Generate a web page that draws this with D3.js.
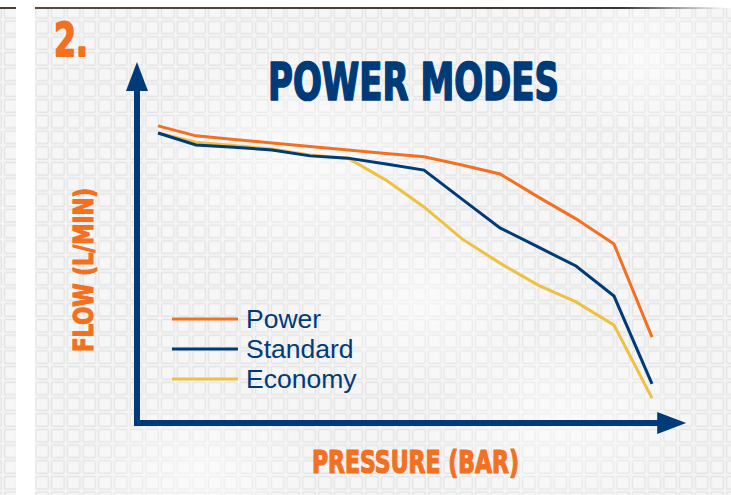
<!DOCTYPE html>
<html><head><meta charset="utf-8">
<script src="https://cdn.jsdelivr.net/npm/d3@7/dist/d3.min.js"></script>
<style>html,body{margin:0;padding:0;background:#fff;}svg{display:block;}</style>
</head><body>
<script>
// Pressure steps (x) and flow readings (y, relative units) per mode
const pressure = [0,1,2,3,4,5,6,7,8,9,10,11,12,13];
const powerFlow    = [92.0,88.9,87.8,86.7,85.6,84.5,83.4,82.4,79.9,77.1,70.0,63.2,55.4,26.6];
const standardFlow = [89.8,86.1,85.4,84.5,82.7,82.0,80.2,78.3,69.3,60.4,54.5,48.6,39.3,12.1];
const economyFlow  = [89.8,86.9,85.9,84.8,83.0,82.0,75.2,66.9,57.0,49.5,42.7,37.5,30.3,7.7];
const modes = ["Power","Standard","Economy"];
const colors = {Power:"#f37021", Standard:"#003b79", Economy:"#f0c043"};

const W=731,H=495;
const svg=d3.select("body").append("svg").attr("width",W).attr("height",H);
const defs=svg.append("defs");
const pat=defs.append("pattern").attr("id","tex").attr("patternUnits","userSpaceOnUse")
  .attr("width",15.7).attr("height",15.7).attr("x",3).attr("y",4);
pat.append("rect").attr("width",15.7).attr("height",15.7).attr("fill","#f4f4f4");
pat.append("rect").attr("x",1.5).attr("y",1.5).attr("width",12.5).attr("height",12.5).attr("rx",1.5)
  .attr("fill","#f6f6f6").attr("stroke","#e4e4e4").attr("stroke-width",1.3);
const rg=defs.append("radialGradient").attr("id","blot");
rg.append("stop").attr("offset","0").attr("stop-color","#fff").attr("stop-opacity",0.55);
rg.append("stop").attr("offset","1").attr("stop-color","#fff").attr("stop-opacity",0);
const tg=defs.append("linearGradient").attr("id","topline");
tg.append("stop").attr("offset","0").attr("stop-color","#5a4a40");
tg.append("stop").attr("offset","0.85").attr("stop-color","#3a3430");
tg.append("stop").attr("offset","1").attr("stop-color","#3a3430").attr("stop-opacity",0);

svg.append("rect").attr("width",W).attr("height",H).attr("fill","#fff");
svg.append("rect").attr("x",0).attr("y",8).attr("width",16).attr("height",H-8).attr("fill","url(#tex)");
svg.append("rect").attr("x",35).attr("y",8).attr("width",W-35).attr("height",H-8).attr("fill","url(#tex)");
[[300,160,160],[560,420,140],[200,470,120],[640,60,110],[420,300,130]].forEach(b=>{
  svg.append("ellipse").attr("cx",b[0]).attr("cy",b[1]).attr("rx",b[2]).attr("ry",b[2]*0.7).attr("fill","url(#blot)");
});
svg.append("rect").attr("x",0).attr("y",7).attr("width",16).attr("height",2).attr("fill","#4a3e36");
svg.append("rect").attr("x",35).attr("y",7).attr("width",690).attr("height",2).attr("fill","url(#topline)");

const x=d3.scaleLinear().domain([0,13]).range([158,652]);
const y=d3.scaleLinear().domain([0,100]).range([423,100]);

const navy="#003b79", orange="#f37021";
// axes
const ox=x(-0.553), oy=y(0);
const xTip=x(13.9), yTip=y(111.8);
svg.append("path").attr("d",`M${ox},${yTip+26}V${oy}H${xTip-26}`)
  .attr("fill","none").attr("stroke",navy).attr("stroke-width",6);
svg.append("path").attr("d",`M${ox},${yTip}L${ox-11},${yTip+29}L${ox+11},${yTip+29}Z`).attr("fill",navy);
svg.append("path").attr("d",`M${xTip},${oy}L${xTip-29},${oy-11}L${xTip-29},${oy+11}Z`).attr("fill",navy);

const line=d3.line().x((d,i)=>x(pressure[i])).y(d=>y(d));
const seriesData={Power:powerFlow, Standard:standardFlow, Economy:economyFlow};
["Economy","Standard","Power"].forEach(m=>{
  svg.append("path").datum(seriesData[m]).attr("d",line).attr("fill","none")
    .attr("stroke",colors[m]).attr("stroke-width",3).attr("stroke-linejoin","miter");
});

// legend
modes.forEach((m,i)=>{
  const ly=319+i*30;
  svg.append("line").attr("x1",172).attr("x2",238).attr("y1",ly).attr("y2",ly)
    .attr("stroke",colors[m]).attr("stroke-width",3);
  svg.append("text").attr("x",246).attr("y",ly+9).text(m)
    .attr("font-family","'Liberation Sans',Arial,sans-serif").attr("font-size",26.5).attr("fill",navy);
});

const cond="'Liberation Sans Narrow','DejaVu Sans Condensed',sans-serif";
function heavy(sel,col,sw){return sel.attr("font-family",cond).attr("font-weight","bold")
  .attr("fill",col).attr("stroke",col).attr("stroke-width",sw).attr("stroke-linejoin","round")
  .attr("lengthAdjust","spacingAndGlyphs");}
heavy(svg.append("text").attr("transform","translate(268,100) scale(1,1.08)").text("POWER MODES")
  .attr("font-size",48).attr("textLength",291),navy,1.6);
heavy(svg.append("text").attr("transform","translate(54,56) scale(1,1.1)").text("2.")
  .attr("font-size",42).attr("textLength",34),orange,1.6);
heavy(svg.append("text").attr("transform","translate(312,473) scale(1,1.08)").text("PRESSURE (BAR)")
  .attr("font-size",29).attr("textLength",207),orange,1.1);
heavy(svg.append("text").attr("transform","translate(93,352) rotate(-90) scale(1,1.05)").text("FLOW (L/MIN)")
  .attr("font-size",25).attr("textLength",164),orange,1.1);
</script>
</body></html>
